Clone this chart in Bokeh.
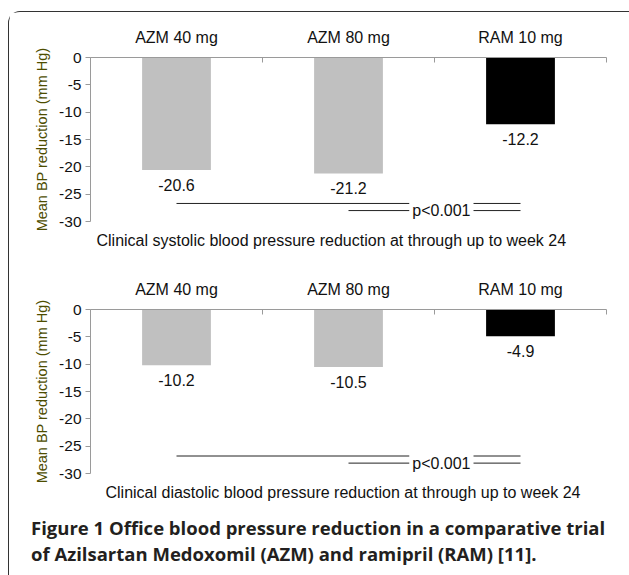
from bokeh.plotting import figure
from bokeh.models import FixedTicker, Label, Title, Div, ColumnDataSource
from bokeh.layouts import column
from bokeh.embed import file_html
from bokeh.resources import INLINE
from bokeh.core.properties import value
import numpy as np

# ---- data ----
categories = ["AZM 40 mg", "AZM 80 mg", "RAM 10 mg"]
systolic = [-20.6, -21.2, -12.2]
diastolic = [-10.2, -10.5, -4.9]
bar_colors = ["#c0c0c0", "#c0c0c0", "#000000"]
y_ticks = [0, -5, -10, -15, -20, -25, -30]
sig_text = "p<0.001"
sig_y_sys = [-26.7, -28.0]
sig_y_dia = [-26.8, -28.1]
captions = ["Clinical systolic blood pressure reduction at through up to week 24",
            "Clinical diastolic blood pressure reduction at through up to week 24"]
caption_offsets = [6, 15]
y_label = "Mean BP reduction (mm Hg)"
fig_caption_1 = "Figure 1 Office blood pressure reduction in a comparative trial"
fig_caption_2 = "of Azilsartan Medoxomil (AZM) and ramipril (RAM) [11]."

FONT = "Liberation Sans"
centers = list(np.arange(len(categories)) + 0.5)


def make_panel(vals, sig_y, caption, cap_off, top, bottom):
    p = figure(width=615, height=top + 164 + bottom, x_range=(0, len(categories)),
               y_range=(-30, 0), output_backend="svg", toolbar_location=None,
               x_axis_location="above", min_border_left=81, min_border_right=18,
               min_border_top=top, min_border_bottom=bottom)
    p.outline_line_color = None
    p.grid.visible = False

    src = ColumnDataSource(dict(x=centers, top=[0] * len(vals), bottom=vals,
                                color=bar_colors,
                                lab=[f"{v:.1f}" for v in vals]))
    p.vbar(x="x", top="top", bottom="bottom", width=0.4, fill_color="color",
           line_color=None, source=src)
    p.text(x="x", y="bottom", text="lab", source=src, y_offset=15,
           text_align="center", text_baseline="middle",
           text_font=value(FONT), text_font_size="16px", text_color="#111111")

    # significance brackets
    p.segment(x0=[centers[0], centers[1]], x1=[centers[2], centers[2]],
              y0=sig_y, y1=sig_y, line_color="#222222", line_width=1)
    p.add_layout(Label(x=2.04, y=sig_y[1], text=sig_text, text_align="center",
                       text_baseline="middle", text_font=FONT,
                       text_font_size="16px", text_color="#111111",
                       background_fill_color="white", padding=3))

    # x axis (categories above)
    xa = p.xaxis[0]
    xa.ticker = FixedTicker(ticks=centers, minor_ticks=[0, 1, 2, 3])
    xa.major_label_overrides = {c: lab for c, lab in zip(centers, categories)}
    xa.major_tick_line_color = None
    xa.minor_tick_in = 5
    xa.minor_tick_out = 0
    xa.minor_tick_line_color = "#9a9a9a"
    xa.axis_line_color = "#9a9a9a"
    xa.major_label_text_font = FONT
    xa.major_label_text_font_size = "16px"
    xa.major_label_text_color = "#111111"
    xa.major_label_standoff = 6

    ya = p.yaxis[0]
    ya.ticker = FixedTicker(ticks=y_ticks)
    ya.major_label_overrides = {t: str(t) for t in y_ticks}
    ya.major_tick_in = 0
    ya.major_tick_out = 5
    ya.major_tick_line_color = "#9a9a9a"
    ya.minor_tick_line_color = None
    ya.axis_line_color = "#9a9a9a"
    ya.major_label_text_font = FONT
    ya.major_label_text_font_size = "15.5px"
    ya.major_label_text_color = "#111111"
    ya.major_label_standoff = 4
    ya.axis_label = y_label
    ya.axis_label_text_font = FONT
    ya.axis_label_text_font_size = "14.5px"
    ya.axis_label_text_font_style = "normal"
    ya.axis_label_text_color = "#4d4d00"
    ya.axis_label_standoff = 6

    p.add_layout(Title(text=caption, align="left", offset=cap_off,
                       text_font=FONT, text_font_size="16px",
                       text_font_style="normal", text_color="#111111",
                       standoff=17), "below")
    return p


p1 = make_panel(systolic, sig_y_sys, captions[0], caption_offsets[0], 45, 41)
p2 = make_panel(diastolic, sig_y_dia, captions[1], caption_offsets[1], 47, 41)

cap = Div(text=(f'<div style="position:relative; top:-4px">'
                f"{fig_caption_1}<br>{fig_caption_2}</div>"),
          width=615, height=52,
          styles={"font-family": "Open Sans", "font-weight": "bold",
                  "font-size": "18.5px", "line-height": "26px",
                  "color": "#231f20", "padding-left": "17px",
                  "white-space": "nowrap"})

layout = column(p1, p2, cap, spacing=0,
                styles={"border-left": "1.6px solid #333333",
                        "border-top": "1.6px solid #333333",
                        "border-top-left-radius": "12px",
                        "margin-top": "11px", "margin-left": "8px"})

open("out.html", "w").write(file_html(layout, INLINE))
